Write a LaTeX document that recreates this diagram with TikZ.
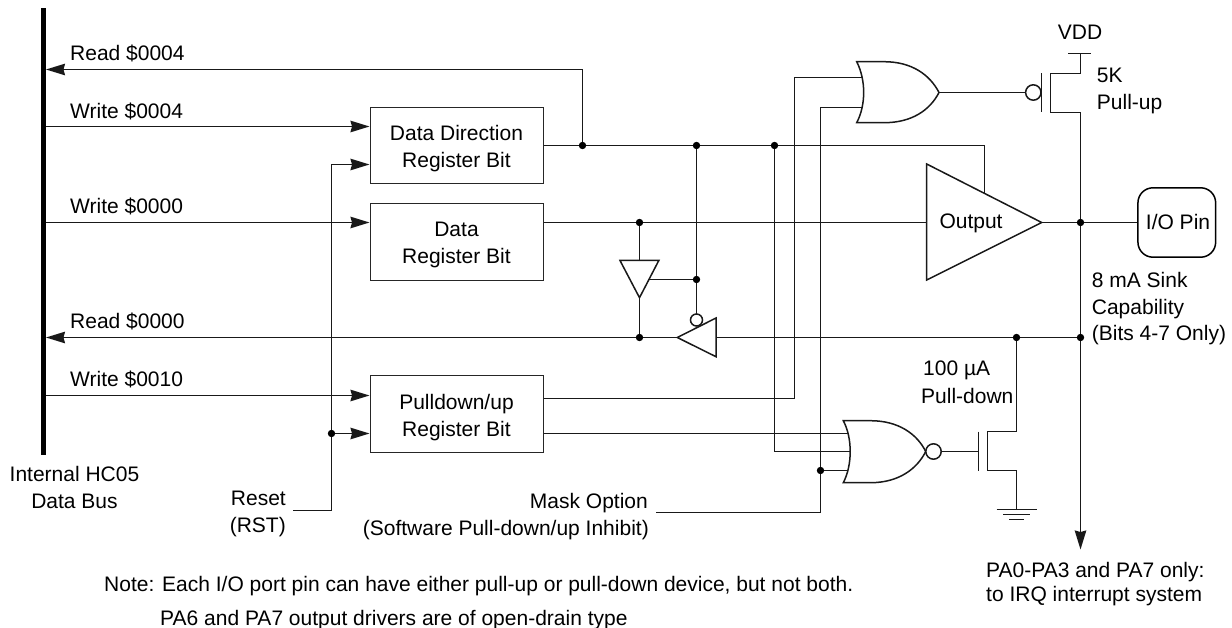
\documentclass[tikz,border=0pt]{standalone}
\usepackage{fontspec}
\setmainfont{Liberation Sans}
\usetikzlibrary{arrows.meta}
\tikzset{
  x=1pt,y=-1pt,
  wire/.style={line width=1.5pt,line join=miter,black!90},
  arrowwire/.style={wire,-{Stealth[length=19pt,width=11.5pt,inset=1.5pt]}},
  gate/.style={line width=1.5pt,fill=white,draw=black!90,line join=miter},
  bubble/.style={line width=1.5pt,fill=white,draw=black!90},
  regbox/.style={draw=black!85,line width=1.5pt,minimum width=173pt,inner sep=0pt},
  lbl/.style={inner sep=0pt,anchor=base west,font=\fontsize{21}{27}\selectfont},
  lblr/.style={lbl,anchor=base east},
  lblc/.style={lbl,anchor=base},
}
\begin{document}
\begin{tikzpicture}
\useasboundingbox (0,0) rectangle (1232,628);
% bus
\coordinate (bustop) at (43.7,8.3);
\coordinate (busbot) at (43.7,455);
\draw[line width=4.8pt,black] (bustop) -- (busbot);
% bus tap points
\coordinate (bR4) at (46,69.5);
\coordinate (bW4) at (46,126.5);
\coordinate (bW0) at (46,222.5);
\coordinate (bR0) at (46,337.5);
\coordinate (bW10) at (46,395.5);
% box pins
\coordinate (ddrA) at (369.5,126.5);
\coordinate (ddrB) at (369.5,164.5);
\coordinate (drbA) at (369.5,222.5);
\coordinate (purA) at (369.5,395.5);
\coordinate (purB) at (369.5,433.5);
\coordinate (ddrO) at (543,145.5);
\coordinate (drbO) at (543,222.5);
\coordinate (purP) at (543,398.5);
\coordinate (purQ) at (543,433.5);
% junctions
\coordinate (jRead) at (582.5,145.5);
\coordinate (jEn) at (696.5,145.5);
\coordinate (jNor) at (774.5,145.5);
\coordinate (jData) at (639.5,222.5);
\coordinate (jBufEn) at (696.5,279.5);
\coordinate (jRd) at (639.5,337.5);
\coordinate (jPd) at (1016.5,337.5);
\coordinate (jPin) at (1080.5,222.5);
\coordinate (jLine) at (1080.5,337.5);
\coordinate (jRst) at (331.5,433.5);
\coordinate (jMask) at (820.5,470.5);
% corner points
\coordinate (cRead) at (582.5,69.5);
\coordinate (cRstB) at (331.5,510.5);
\coordinate (rstEnd) at (293,510.5);
\coordinate (cRstT) at (331.5,164.5);
\coordinate (cDdrR) at (984.5,145.5);
\coordinate (outEn) at (984.5,195);
\coordinate (maskEnd) at (656,512.5);
\coordinate (cMask) at (820.5,512.5);
\coordinate (cOrB) at (820.5,107.5);
\coordinate (cOrA) at (794.5,77.5);
\coordinate (cPur) at (794.5,398.5);
\coordinate (cNorB) at (774.5,451.5);
% gate pins
\coordinate (orA) at (866,77.5);
\coordinate (orB) at (866,107.5);
\coordinate (orO) at (939,92.5);
\coordinate (norA) at (852,433.5);
\coordinate (norB) at (852,451.5);
\coordinate (norC) at (852,470.5);
\coordinate (norO) at (925.7,451.5);
\coordinate (outI) at (927,222.5);
\coordinate (outO) at (1041.7,222.5);
\coordinate (b1top) at (639.5,260.5);
\coordinate (b1tip) at (639.5,297.7);
\coordinate (b1en) at (648.5,279.5);
\coordinate (b2tip) at (677.3,337.5);
\coordinate (b2in) at (716,337.5);
\coordinate (b2en) at (696.5,314);
% wires
\draw[arrowwire] (cRead) -- (bR4);
\draw[wire] (jRead) -- (cRead);
\draw[arrowwire] (bW4) -- (ddrA);
\draw[arrowwire] (bW0) -- (drbA);
\draw[arrowwire] (b2tip) -- (bR0);
\draw[arrowwire] (bW10) -- (purA);
\draw[wire] (rstEnd) -- (cRstB) -- (cRstT);
\draw[arrowwire] (cRstT) -- (ddrB);
\draw[arrowwire] (jRst) -- (purB);
\draw[wire] (ddrO) -- (cDdrR) -- (outEn);
\draw[wire] (drbO) -- (outI);
\draw[wire] (jData) -- (b1top);
\draw[wire] (b1tip) -- (jRd);
\draw[wire] (jEn) -- (b2en);
\draw[wire] (jBufEn) -- (b1en);
\draw[wire] (jLine) -- (b2in);
\draw[wire] (purP) -- (cPur) -- (cOrA) -- (orA);
\draw[wire] (maskEnd) -- (cMask) -- (cOrB) -- (orB);
\draw[wire] (purQ) -- (norA);
\draw[wire] (jNor) -- (cNorB) -- (norB);
\draw[wire] (jMask) -- (norC);
% PMOS
\coordinate (pT) at (1050.5,73.5);
\coordinate (pB) at (1050.5,112.5);
\coordinate (gpT) at (1041.5,73.5);
\coordinate (gpB) at (1041.5,112.5);
\coordinate (vddN) at (1080.5,73.5);
\coordinate (vddB) at (1080.5,53.5);
\coordinate (vddL) at (1068,53.5);
\coordinate (vddR) at (1091,53.5);
\coordinate (pS) at (1080.5,112.5);
\coordinate (irqTip) at (1080.5,549.5);
\coordinate (pBub) at (1025,92.5);
\draw[wire] (orO) -- (pBub);
\draw[wire] (gpT) -- (gpB);
\draw[wire] (vddB) -- (vddN) -- (pT) -- (pB) -- (pS);
\draw[wire] (vddL) -- (vddR);
\draw[arrowwire] (pS) -- (irqTip);
\filldraw[bubble] (1033.3,92.5) circle (7.7);
% NMOS
\coordinate (nT) at (987.5,431.5);
\coordinate (nB) at (987.5,470.5);
\coordinate (gnT) at (978.5,431.5);
\coordinate (gnB) at (978.5,470.5);
\coordinate (gnM) at (978.5,451.5);
\coordinate (dT) at (1016.5,431.5);
\coordinate (dB) at (1016.5,470.5);
\coordinate (gndT) at (1016.5,509.5);
\draw[wire] (norO) -- (gnM);
\draw[wire] (gnT) -- (gnB);
\draw[wire] (jPd) -- (dT) -- (nT) -- (nB) -- (dB) -- (gndT);
\draw[wire] (996.7,509.5) -- (1036.7,509.5);
\draw[wire] (1003,514.5) -- (1030,514.5);
\draw[wire] (1009.3,519.5) -- (1024,519.5);
% OR gate
\filldraw[gate] (856.7,61.7) -- (884,61.7) .. controls (912,61.7) and (930,75) .. (orO)
   .. controls (930,110) and (912,122.7) .. (884,122.7) -- (856.7,122.7)
   .. controls (866,105) and (866,80) .. cycle;
% NOR gate
\filldraw[gate] (843.3,420.7) -- (870.5,420.7) .. controls (898.5,420.7) and (917,434) .. (norO)
   .. controls (917,469) and (898.5,482.7) .. (870.5,482.7) -- (843.3,482.7)
   .. controls (852.5,465) and (852.5,438) .. cycle;
\filldraw[bubble] (933.5,451.5) circle (7.7);
% output buffer
\filldraw[gate] (926.7,164) -- (outO) -- (926.7,280) -- cycle;
% small buffers
\filldraw[gate] (620,260.5) -- (658.8,260.5) -- (b1tip) -- cycle;
\filldraw[gate] (b2tip) -- (716,318) -- (716,356.7) -- cycle;
\filldraw[bubble] (696.5,320) circle (6);
% registers
\node[regbox,minimum height=76pt] (ddr) at (457,145.5) {};
\node[regbox,minimum height=77pt] (drb) at (457,242) {};
\node[regbox,minimum height=77pt] (pur) at (457,414) {};
% I/O pin
\node[draw=black,line width=1.5pt,rounded corners=15pt,fill=white,minimum width=77.7pt,minimum height=69.4pt,inner sep=0pt] (iopin) at (1176.8,222.5) {};
\draw[wire] (outO) -- (iopin);
% dots
\foreach \j in {jRead,jEn,jNor,jData,jBufEn,jRd,jPd,jPin,jLine,jRst,jMask}
  \fill[black] (\j) circle (3.7);
% labels
\node[lbl] (t1) at (70,60.7) {Read \$0004};
\node[lbl] (t2) at (70,118.7) {Write \$0004};
\node[lbl] (t3) at (70,214) {Write \$0000};
\node[lbl] (t4) at (70,329) {Read \$0000};
\node[lbl] (t5) at (70,387) {Write \$0010};
\node[lblc] (t6) at (456.5,140.5) {Data Direction};
\node[lblc] (t7) at (456.5,167.5) {Register Bit};
\node[lblc] (t8) at (456.5,237) {Data};
\node[lblc] (t9) at (456.5,264) {Register Bit};
\node[lblc] (t10) at (456.5,409) {Pulldown/up};
\node[lblc] (t11) at (456.5,436) {Register Bit};
\node[lblc] (t12) at (74.5,481.7) {Internal HC05};
\node[lblc] (t13) at (74.5,508) {Data Bus};
\node[lblr] (t14) at (286,505) {Reset};
\node[lblr] (t15) at (286,532) {(RST)};
\node[lblr] (t16) at (648,508) {Mask Option};
\node[lblr] (t17) at (649,535) {(Software Pull-down/up Inhibit)};
\node[lbl] (t18) at (104,591.7) {Note: Each I/O port pin can have either pull-up or pull-down device, but not both.};
\node[lbl] (t19) at (160,625) {PA6 and PA7 output drivers are of open-drain type};
\node[lbl] (t20) at (986,577.3) {PA0-PA3 and PA7 only:};
\node[lbl] (t21) at (986,601) {to IRQ interrupt system};
\node[lblc] (t22) at (1080,39.3) {VDD};
\node[lbl] (t23) at (1096.7,82.7) {5K};
\node[lbl] (t24) at (1096.7,109.3) {Pull-up};
\node[lbl] (t25) at (923,376) {100 µA};
\node[lbl] (t26) at (921,403.3) {Pull-down};
\node[lbl] (t27) at (939.3,229) {Output};
\node[lbl] (t28) at (1145.7,230) {I/O Pin};
\node[lbl] (t29) at (1091.7,287.3) {8 mA Sink};
\node[lbl] (t30) at (1091.7,315) {Capability};
\node[lbl] (t31) at (1091.7,341) {(Bits 4-7 Only)};
\end{tikzpicture}
\end{document}
